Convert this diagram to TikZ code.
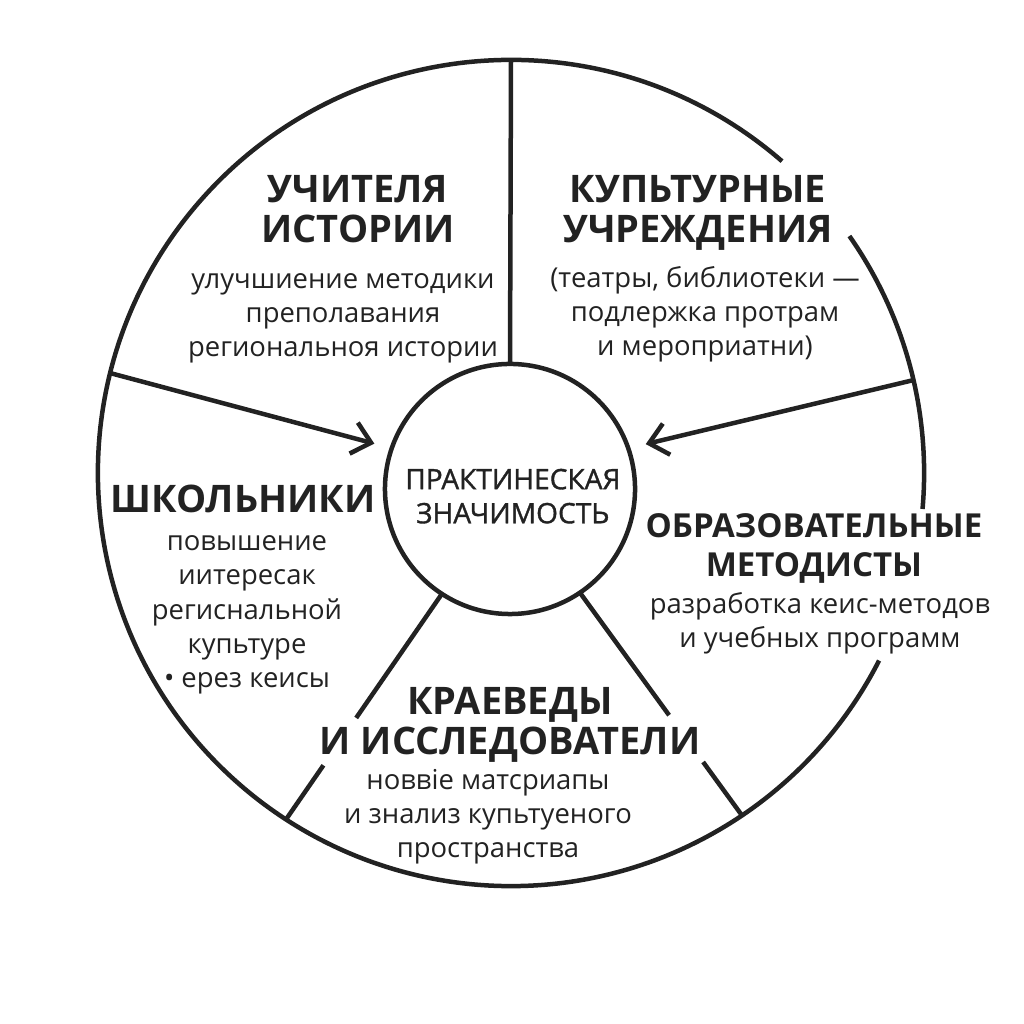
\documentclass[tikz,border=0pt]{standalone}
\usepackage{fontspec}
\setmainfont{Open Sans}
\newfontfamily\hubfont{Open Sans}[FakeBold=1.2]
\usetikzlibrary{arrows.meta,calc,positioning}
\definecolor{ink}{HTML}{222222}

\begin{document}
\begin{tikzpicture}[x=0.025cm, y=0.025cm, line width=3.2pt, color=ink,
      every node/.append style={align=center, inner sep=0pt, text=ink},
      role/.style={font=\fontsize{27}{28.5}\selectfont\bfseries},
      gain/.style={font=\fontsize{19.5}{24.5}\selectfont},
      tip/.style={-{Straight Barb[length=4.5mm,width=8mm]}, shorten >=0.45cm}]
  \useasboundingbox (0,0) rectangle (1024,1024);
  \node (rim) [circle, minimum size=20.65cm, outer sep=0pt] at (511,551) {};
  \node (hub) [circle, draw, minimum size=6.25cm, outer sep=0pt] at (510,535) {};
  \node (hubtext) [font=\hubfont\fontsize{20}{24.2}\selectfont] at ([xshift=0.07cm, yshift=-0.18cm]hub) {ПРАКТИНЕСКАЯ\\ЗНАЧИМОСТЬ};
  \draw (rim.49) arc[start angle=49, end angle=333, radius=10.325cm];
  \draw (rim.-5) arc[start angle=-5, end angle=35, radius=10.325cm];
  \draw (hub.90) -- (rim.90);
  \draw[tip] (rim.166.7) -- (hub.161);
  \draw[tip] (rim.13.5) -- (hub.19);
  \draw (hub.237) -- ($(hub.237)!.55!(rim.237)$) ($(hub.237)!.76!(rim.237)$) -- (rim.237);
  \draw (hub.304) -- ($(hub.304)!.55!(rim.304)$) ($(hub.304)!.76!(rim.304)$) -- (rim.304);

  \node (teachers) [role, anchor=base] at (358,781) {УЧИТЕЛЯ\\ИСТОРИИ};
  \node (teachgain) [gain, anchor=base] at (343,667) {улучшиение методики\\преполавания\\региональноя истории};
  \node (culture) [role, anchor=base] at (698,781) {КУПЬТУРНЫЕ\\УЧРЕЖДЕНИЯ};
  \node (culturegain) [gain, anchor=base] at (705,668) {(театры, библиотеки —\\подлержка протрам\\и мероприатни)};
  \node (pupils) [role, anchor=base] at (243,511) {ШКОЛЬНИКИ};
  \node (pupilgain) [gain, anchor=base] at (247,336) {повышение\\иитересак\\региснальной\\купьтуре\\• ерез кеисы};
  \node (methodists) [role, anchor=base, font=\fontsize{23.5}{28}\selectfont\bfseries] at (814,447) {ОБРАЗОВАТЕЛЬНЫЕ\\МЕТОДИСТЫ};
  \node (methodgain) [gain, anchor=base] at (820,376) {разработка кеис-методов\\и учебных программ};
  \node (locals) [role, anchor=base] at (510,269) {КРАЕВЕДЫ\\И ИССЛЕДОВАТЕЛИ};
  \node (localgain) [gain, anchor=base] at (488,166) {новвіе матсриапы\\и знализ купьтуеного\\пространства};
\end{tikzpicture}
\end{document}
